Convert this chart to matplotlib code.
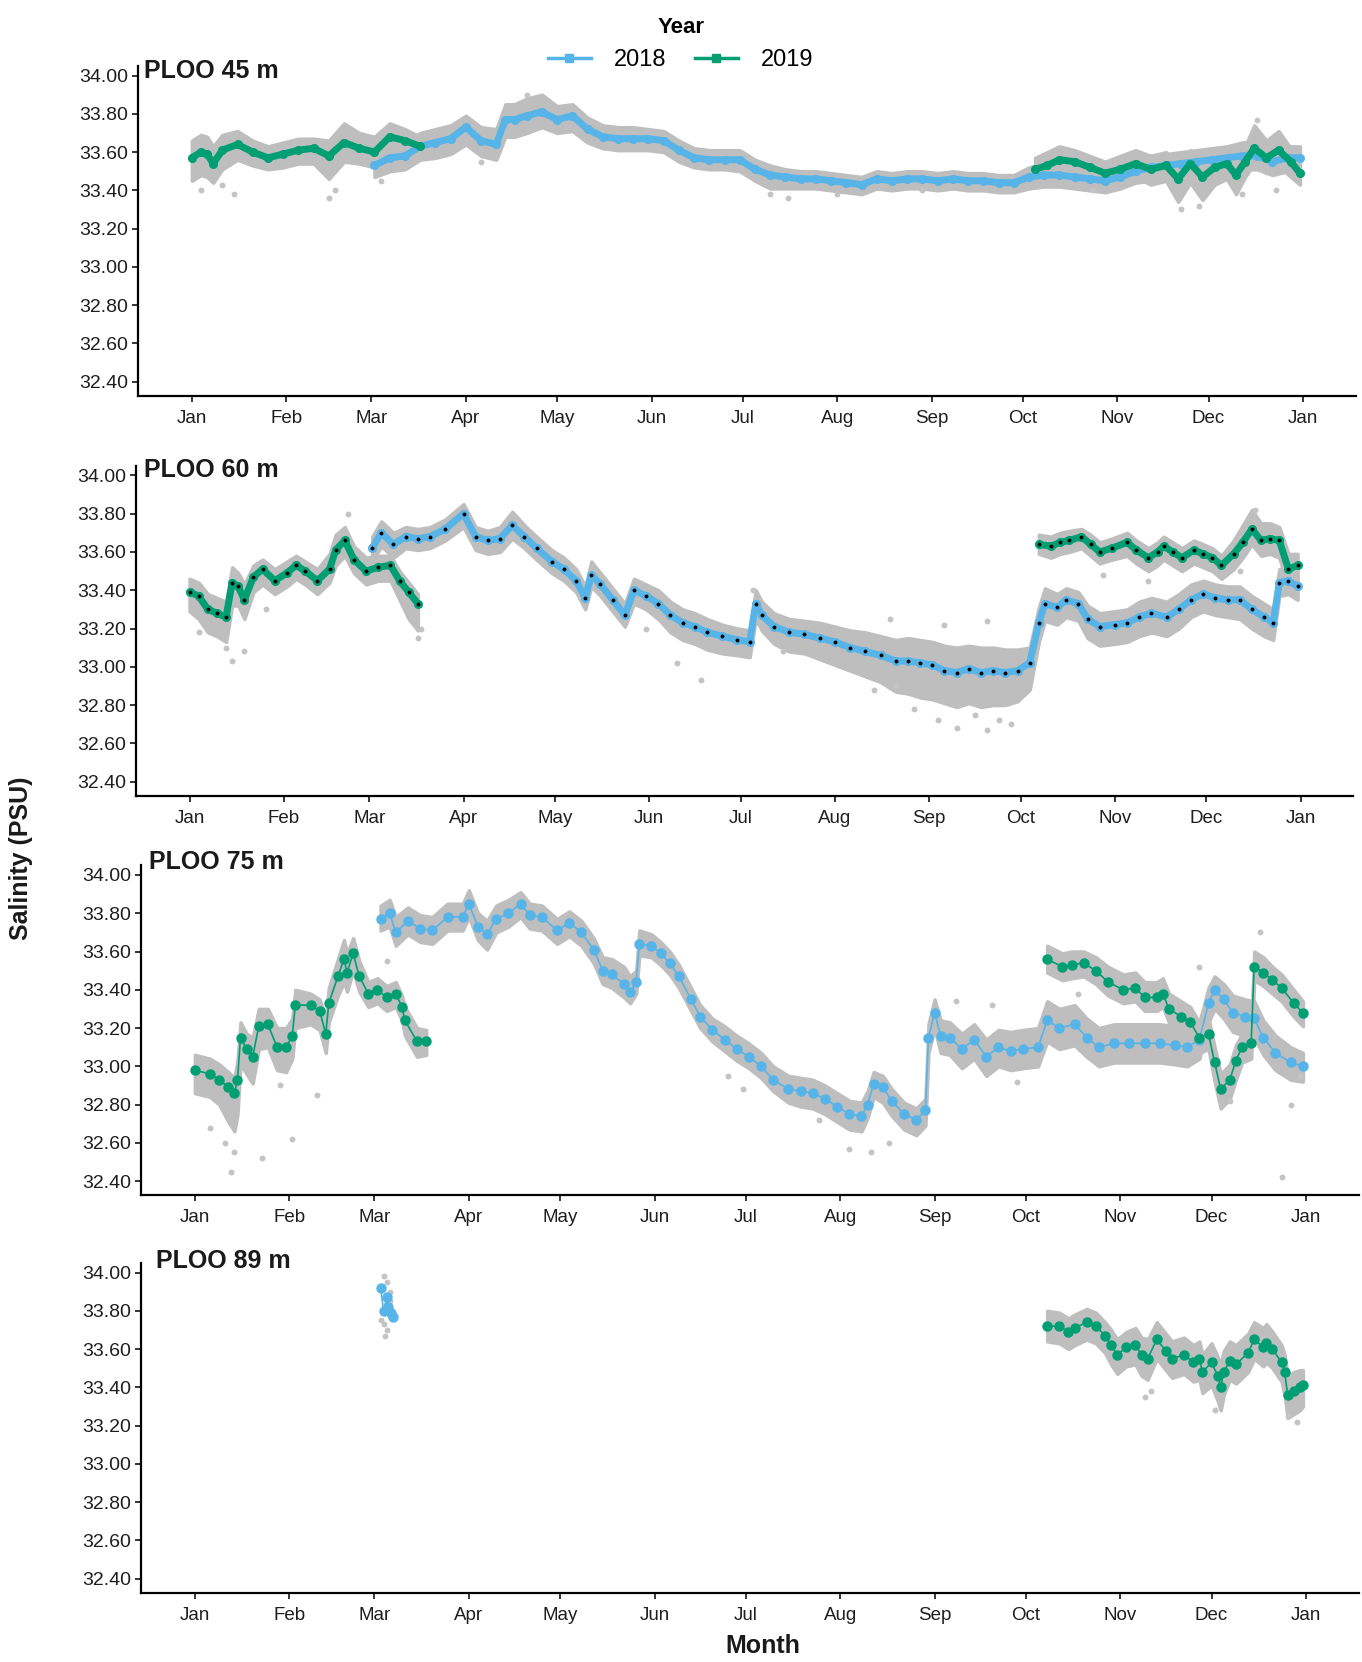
import numpy as np
import matplotlib.pyplot as plt
from matplotlib.lines import Line2D

plt.rcParams['font.family'] = ['Liberation Sans', 'DejaVu Sans']

BLUE = '#56B4E9'   # 2018
GREEN = '#009E73'  # 2019
GREY = '#bebebe'

MONTHS = ['Jan', 'Feb', 'Mar', 'Apr', 'May', 'Jun', 'Jul', 'Aug', 'Sep', 'Oct', 'Nov', 'Dec', 'Jan']
MONTH_START = [0, 31, 59, 90, 120, 151, 181, 212, 243, 273, 304, 334, 365]
Y_TICKS = [32.4, 32.6, 32.8, 33.0, 33.2, 33.4, 33.6, 33.8, 34.0]

# rows: (day of year, daily mean salinity, spread of raw points below, spread above)
P45_2018 = [
    (60, 33.53, .06, .06), (65, 33.57, .07, .07), (70, 33.58, .07, .07), (75, 33.63, .07, .07),
    (80, 33.65, .08, .07), (85, 33.67, .08, .07), (90, 33.73, .09, .06), (95, 33.66, .08, .07),
    (100, 33.64, .08, .08), (103, 33.77, .09, .08), (106, 33.77, .09, .08), (110, 33.79, .09, .09),
    (115, 33.81, .08, .09), (120, 33.77, .07, .07), (125, 33.79, .08, .06), (130, 33.72, .07, .06),
    (135, 33.68, .06, .06), (140, 33.67, .06, .06), (145, 33.67, .06, .06), (150, 33.67, .06, .05),
    (155, 33.66, .06, .05), (160, 33.61, .06, .05), (165, 33.57, .05, .05), (170, 33.56, .05, .05),
    (175, 33.56, .05, .05), (180, 33.56, .06, .05), (185, 33.51, .06, .05), (190, 33.48, .07, .05),
    (195, 33.47, .06, .04), (200, 33.46, .05, .04), (205, 33.46, .05, .04), (210, 33.45, .05, .04),
    (215, 33.44, .05, .04), (220, 33.43, .05, .04), (225, 33.46, .05, .04), (230, 33.45, .05, .04),
    (235, 33.46, .05, .04), (240, 33.46, .05, .04), (245, 33.45, .05, .04), (250, 33.46, .05, .04),
    (255, 33.45, .05, .04), (260, 33.45, .05, .04), (265, 33.44, .05, .04), (270, 33.44, .05, .04),
    (275, 33.47, .06, .05), (280, 33.48, .06, .06), (285, 33.48, .06, .06), (290, 33.47, .06, .06),
    (295, 33.46, .06, .06), (300, 33.45, .06, .06), (305, 33.47, .06, .06), (310, 33.50, .06, .06),
    (315, 33.52, .07, .06), (320, 33.53, .07, .06), (325, 33.54, .08, .06), (330, 33.55, .08, .06),
    (335, 33.56, .07, .06), (340, 33.57, .07, .06), (345, 33.58, .07, .07), (350, 33.58, .07, .08),
    (355, 33.55, .07, .08), (360, 33.57, .07, .06), (364, 33.57, .07, .06),
]
P45_2019_WINTER = [
    (0, 33.57, .12, .09), (3, 33.60, .12, .09), (5, 33.59, .12, .09), (7, 33.54, .10, .09),
    (10, 33.61, .10, .08), (15, 33.64, .08, .07), (20, 33.60, .07, .06), (25, 33.57, .06, .06),
    (30, 33.59, .07, .06), (35, 33.61, .07, .06), (40, 33.62, .08, .05), (45, 33.58, .12, .08),
    (50, 33.65, .10, .10), (55, 33.62, .08, .08), (60, 33.60, .08, .08), (65, 33.68, .07, .07),
    (70, 33.66, .07, .06), (75, 33.63, .06, .05),
]
P45_2019_FALL = [
    (277, 33.51, .07, .06), (281, 33.53, .07, .07), (285, 33.56, .07, .07), (290, 33.55, .07, .06),
    (295, 33.52, .07, .06), (300, 33.49, .07, .06), (305, 33.51, .07, .07), (310, 33.54, .07, .07),
    (315, 33.51, .08, .07), (320, 33.53, .08, .07), (324, 33.46, .12, .08), (328, 33.54, .10, .07),
    (332, 33.47, .12, .07), (336, 33.52, .09, .07), (340, 33.54, .08, .07), (343, 33.48, .10, .07),
    (346, 33.55, .08, .08), (349, 33.62, .08, .12), (353, 33.57, .08, .09), (357, 33.61, .08, .10),
    (361, 33.55, .08, .07), (364, 33.49, .06, .06),
]
P45_OUTLIERS = [
    (3, 33.40), (10, 33.43), (14, 33.38), (45, 33.36), (47, 33.40), (62, 33.45), (95, 33.55),
    (110, 33.90), (190, 33.38), (196, 33.36), (212, 33.38), (240, 33.40), (296, 33.40),
    (325, 33.30), (331, 33.32), (345, 33.38), (350, 33.77), (356, 33.40),
]

P60_2019_WINTER = [
    (0, 33.39, .10, .07), (3, 33.37, .12, .07), (6, 33.30, .12, .08), (9, 33.28, .12, .08),
    (12, 33.26, .13, .08), (14, 33.44, .12, .08), (16, 33.42, .10, .07), (18, 33.35, .10, .08),
    (21, 33.47, .08, .06), (24, 33.51, .08, .05), (28, 33.45, .07, .06), (32, 33.49, .07, .06),
    (35, 33.53, .07, .05), (38, 33.50, .07, .05), (42, 33.45, .07, .06), (46, 33.51, .07, .08),
    (48, 33.61, .08, .08), (51, 33.66, .08, .07), (54, 33.56, .07, .07), (58, 33.50, .07, .07),
    (62, 33.52, .07, .06), (66, 33.53, .08, .05), (69, 33.45, .10, .05), (72, 33.39, .14, .05),
    (75, 33.33, .14, .05),
]
P60_2018 = [
    (60, 33.62, .07, .06), (63, 33.70, .07, .06), (67, 33.64, .07, .06), (71, 33.68, .06, .05),
    (75, 33.67, .06, .05), (79, 33.68, .06, .05), (84, 33.72, .06, .05), (90, 33.80, .07, .05),
    (94, 33.68, .07, .05), (98, 33.66, .07, .05), (102, 33.67, .07, .06), (106, 33.74, .07, .07),
    (110, 33.68, .06, .06), (114, 33.62, .06, .06), (119, 33.55, .06, .06), (123, 33.51, .06, .06),
    (127, 33.45, .06, .06), (130, 33.36, .06, .06), (132, 33.48, .06, .07), (135, 33.43, .06, .06),
    (139, 33.35, .06, .06), (143, 33.27, .06, .06), (146, 33.40, .07, .06), (150, 33.37, .07, .06),
    (154, 33.33, .08, .07), (158, 33.27, .09, .07), (162, 33.23, .09, .07), (166, 33.21, .09, .07),
    (170, 33.18, .09, .07), (175, 33.16, .09, .06), (180, 33.14, .08, .06), (184, 33.13, .08, .06),
    (186, 33.33, .08, .07), (188, 33.27, .08, .07), (192, 33.21, .09, .07), (197, 33.18, .10, .07),
    (202, 33.17, .10, .07), (207, 33.15, .11, .08), (212, 33.13, .12, .08), (217, 33.10, .12, .09),
    (222, 33.08, .13, .10), (227, 33.06, .14, .10), (232, 33.03, .16, .11), (236, 33.03, .17, .12),
    (240, 33.02, .18, .12), (244, 33.01, .18, .12), (248, 32.98, .17, .13), (252, 32.97, .18, .13),
    (256, 32.99, .18, .12), (260, 32.97, .18, .13), (264, 32.98, .18, .12), (268, 32.97, .17, .12),
    (272, 32.98, .16, .11), (276, 33.02, .14, .08), (279, 33.23, .10, .08), (281, 33.33, .09, .08),
    (285, 33.31, .09, .07), (288, 33.35, .09, .06), (292, 33.33, .09, .06), (295, 33.25, .10, .07),
    (299, 33.21, .10, .07), (304, 33.22, .10, .07), (308, 33.23, .10, .07), (312, 33.26, .10, .08),
    (316, 33.28, .10, .08), (321, 33.26, .10, .08), (325, 33.30, .10, .08), (329, 33.35, .09, .08),
    (333, 33.38, .09, .07), (337, 33.36, .09, .07), (341, 33.35, .09, .07), (345, 33.35, .10, .07),
    (349, 33.30, .10, .07), (353, 33.26, .10, .07), (356, 33.23, .09, .07), (358, 33.44, .07, .07),
    (361, 33.45, .07, .07), (364, 33.42, .07, .06),
]
P60_2019_FALL = [
    (279, 33.64, .05, .05), (283, 33.63, .06, .05), (286, 33.65, .06, .05), (289, 33.66, .06, .05),
    (293, 33.68, .06, .04), (296, 33.64, .06, .05), (299, 33.60, .06, .05), (303, 33.62, .06, .05),
    (308, 33.65, .07, .05), (311, 33.61, .07, .05), (315, 33.57, .07, .05), (318, 33.60, .07, .05),
    (320, 33.63, .07, .05), (323, 33.60, .07, .05), (326, 33.57, .07, .05), (330, 33.61, .07, .05),
    (333, 33.59, .07, .05), (336, 33.57, .07, .05), (339, 33.53, .07, .05), (343, 33.59, .08, .07),
    (346, 33.65, .08, .09), (349, 33.72, .08, .10), (352, 33.66, .08, .09), (355, 33.67, .08, .08),
    (358, 33.66, .09, .07), (361, 33.51, .10, .08), (364, 33.53, .08, .06),
]
P60_OUTLIERS = [
    (3, 33.18), (12, 33.10), (14, 33.03), (18, 33.08), (25, 33.30), (52, 33.80), (75, 33.15),
    (76, 33.20), (150, 33.20), (160, 33.02), (168, 32.93), (185, 33.40), (195, 33.08),
    (225, 32.88), (230, 33.25), (232, 32.90), (238, 32.78), (246, 32.72), (248, 33.22),
    (252, 32.68), (258, 32.75), (262, 32.67), (262, 33.24), (266, 32.72), (270, 32.70),
    (300, 33.48), (315, 33.45), (345, 33.50), (350, 33.82),
]

P75_2019_WINTER = [
    (0, 32.98, .12, .08), (5, 32.96, .12, .08), (8, 32.93, .13, .08), (11, 32.89, .18, .08),
    (13, 32.86, .20, .08), (14, 32.93, .18, .10), (15, 33.15, .14, .08), (17, 33.09, .13, .08),
    (19, 33.05, .14, .10), (21, 33.21, .12, .09), (24, 33.22, .12, .08), (27, 33.10, .12, .10),
    (30, 33.10, .13, .10), (32, 33.16, .12, .09), (33, 33.32, .12, .08), (38, 33.32, .10, .06),
    (41, 33.29, .10, .06), (43, 33.17, .10, .08), (44, 33.33, .10, .08), (47, 33.47, .10, .09),
    (49, 33.56, .12, .10), (50, 33.49, .10, .10), (52, 33.59, .09, .08), (54, 33.47, .08, .08),
    (57, 33.38, .07, .06), (60, 33.40, .07, .06), (63, 33.36, .07, .06), (66, 33.38, .07, .06),
    (68, 33.31, .07, .06), (69, 33.24, .08, .07), (73, 33.13, .08, .07), (76, 33.13, .07, .06),
]
P75_2018 = [
    (61, 33.77, .06, .07), (64, 33.80, .07, .07), (66, 33.70, .07, .08), (70, 33.76, .07, .07),
    (74, 33.72, .07, .07), (78, 33.71, .07, .07), (83, 33.78, .07, .07), (88, 33.78, .07, .07),
    (90, 33.85, .07, .07), (93, 33.73, .07, .07), (96, 33.69, .08, .07), (99, 33.77, .07, .07),
    (103, 33.80, .07, .07), (107, 33.85, .07, .06), (110, 33.79, .07, .06), (114, 33.78, .07, .06),
    (119, 33.71, .07, .06), (123, 33.75, .07, .06), (127, 33.70, .07, .06), (131, 33.61, .07, .06),
    (134, 33.50, .07, .07), (137, 33.48, .07, .08), (141, 33.43, .07, .09), (143, 33.39, .06, .08),
    (145, 33.44, .06, .06), (146, 33.64, .06, .07), (150, 33.63, .06, .06), (153, 33.59, .06, .06),
    (156, 33.54, .06, .06), (159, 33.47, .06, .06), (163, 33.35, .06, .06), (166, 33.26, .06, .06),
    (170, 33.19, .06, .06), (174, 33.14, .06, .07), (178, 33.09, .06, .07), (182, 33.05, .06, .07),
    (186, 33.00, .06, .07), (190, 32.93, .06, .07), (195, 32.88, .07, .07), (199, 32.87, .08, .07),
    (203, 32.86, .08, .07), (207, 32.83, .08, .07), (211, 32.79, .08, .07), (215, 32.75, .08, .07),
    (219, 32.74, .08, .07), (221, 32.80, .07, .07), (223, 32.91, .07, .06), (226, 32.89, .08, .06),
    (229, 32.82, .08, .06), (233, 32.75, .08, .06), (237, 32.72, .08, .06), (240, 32.77, .08, .06),
    (241, 33.15, .08, .07), (243, 33.28, .08, .07), (245, 33.16, .09, .08), (248, 33.15, .09, .08),
    (252, 33.09, .10, .08), (256, 33.14, .10, .08), (260, 33.05, .10, .09), (264, 33.10, .10, .09),
    (268, 33.08, .10, .10), (272, 33.09, .10, .10), (277, 33.10, .10, .10), (280, 33.24, .11, .10),
    (284, 33.20, .11, .10), (289, 33.22, .11, .10), (293, 33.15, .10, .10), (297, 33.10, .10, .10),
    (302, 33.12, .10, .10), (307, 33.12, .10, .10), (312, 33.12, .10, .10), (317, 33.12, .10, .10),
    (322, 33.11, .10, .10), (326, 33.10, .10, .10), (330, 33.14, .10, .09), (333, 33.33, .10, .08),
    (335, 33.40, .10, .07), (338, 33.35, .10, .08), (341, 33.28, .10, .09), (345, 33.26, .10, .09),
    (348, 33.25, .10, .09), (351, 33.15, .09, .09), (355, 33.07, .09, .09), (360, 33.02, .09, .08),
    (364, 33.00, .08, .07),
]
P75_2019_FALL = [
    (280, 33.56, .07, .07), (285, 33.52, .07, .07), (288, 33.53, .07, .07), (292, 33.54, .07, .06),
    (296, 33.50, .07, .07), (300, 33.44, .07, .08), (305, 33.40, .07, .08), (309, 33.41, .07, .08),
    (312, 33.36, .07, .08), (316, 33.36, .07, .08), (318, 33.38, .07, .08), (320, 33.30, .07, .08),
    (324, 33.26, .07, .08), (327, 33.23, .07, .08), (330, 33.15, .08, .08), (333, 33.17, .08, .08),
    (335, 33.02, .10, .08), (337, 32.88, .10, .08), (340, 32.93, .10, .08), (342, 33.03, .10, .08),
    (344, 33.10, .08, .07), (347, 33.12, .08, .07), (348, 33.52, .07, .08), (351, 33.49, .07, .08),
    (354, 33.45, .07, .07), (357, 33.41, .07, .07), (361, 33.33, .07, .07), (364, 33.28, .07, .06),
]
P75_OUTLIERS = [
    (5, 32.68), (10, 32.60), (12, 32.45), (13, 32.55), (22, 32.52), (28, 32.90), (32, 32.62),
    (40, 32.85), (63, 33.55), (175, 32.95), (180, 32.88), (205, 32.72), (215, 32.57),
    (222, 32.55), (228, 32.60), (250, 33.34), (262, 33.32), (270, 32.92), (290, 33.38),
    (330, 33.52), (340, 32.82), (350, 33.70), (357, 32.42), (360, 32.80), (363, 32.95),
]

P89_2018 = [
    (61, 33.92, .00, .00), (62, 33.80, .00, .00), (63, 33.87, .00, .00), (63.5, 33.82, .00, .00),
    (64.5, 33.79, .00, .00), (65, 33.77, .00, .00),
]
P89_2019_FALL = [
    (280, 33.72, .08, .08), (284, 33.72, .09, .07), (287, 33.69, .09, .07), (289, 33.71, .09, .07),
    (293, 33.74, .09, .07), (296, 33.72, .09, .07), (299, 33.67, .09, .07), (301, 33.62, .10, .08),
    (303, 33.57, .10, .08), (306, 33.61, .10, .08), (309, 33.62, .10, .09), (311, 33.57, .11, .09),
    (313, 33.55, .11, .10), (316, 33.65, .10, .09), (319, 33.59, .10, .09), (321, 33.55, .10, .09),
    (325, 33.57, .10, .09), (328, 33.53, .10, .09), (330, 33.55, .11, .09), (331, 33.48, .11, .09),
    (334, 33.53, .12, .10), (336, 33.46, .13, .10), (337, 33.40, .12, .12), (338, 33.48, .12, .11),
    (340, 33.54, .10, .10), (342, 33.52, .10, .10), (346, 33.58, .10, .10), (348, 33.65, .10, .09),
    (351, 33.61, .10, .10), (352, 33.63, .10, .10), (354, 33.60, .10, .09), (357, 33.53, .10, .09),
    (358, 33.48, .12, .09), (359, 33.36, .12, .10), (361, 33.38, .12, .10), (363, 33.40, .12, .09),
    (364, 33.41, .11, .08),
]
P89_OUTLIERS = [
    (61, 33.75), (62, 33.98), (62, 33.73), (62.5, 33.67), (63, 33.95), (63, 33.70), (64, 33.90),
    (64, 33.85), (312, 33.35), (314, 33.38), (335, 33.28), (359, 33.25), (362, 33.22),
]

# panel name, series list, outliers, axes rect (figure fraction), line style, title position
PANELS = [
    ('PLOO 45 m', [(P45_2018, BLUE), (P45_2019_WINTER, GREEN), (P45_2019_FALL, GREEN)],
     P45_OUTLIERS, [0.1013, 0.7617, 0.8940, 0.1986], 'thick', (0.005, 0.985)),
    ('PLOO 60 m', [(P60_2018, BLUE), (P60_2019_WINTER, GREEN), (P60_2019_FALL, GREEN)],
     P60_OUTLIERS, [0.0996, 0.5211, 0.8940, 0.1986], 'dotted', (0.007, 0.988)),
    ('PLOO 75 m', [(P75_2018, BLUE), (P75_2019_WINTER, GREEN), (P75_2019_FALL, GREEN)],
     P75_OUTLIERS, [0.1035, 0.2807, 0.8940, 0.1986], 'thin', (0.007, 1.01)),
    ('PLOO 89 m', [(P89_2018, BLUE), (P89_2019_FALL, GREEN)],
     P89_OUTLIERS, [0.1035, 0.0415, 0.8940, 0.1986], 'thin', (0.012, 1.006)),
]


def draw_band(ax, rows):
    day, mean, dn, up = (np.array(c, dtype=float) for c in zip(*rows))
    if np.any(dn > 0):
        # edge line stands in for the radius of the raw-point markers
        ax.fill_between(day, mean - dn, mean + up, facecolor=GREY, edgecolor=GREY,
                        lw=2.5, zorder=1)


def draw_mean(ax, rows, color, style):
    day, mean = [r[0] for r in rows], [r[1] for r in rows]
    if style == 'thin':
        ax.plot(day, mean, color=color, lw=1.2, marker='o', ms=6.5, mec=color, zorder=3)
    else:
        ax.plot(day, mean, color=color, lw=5, marker='o', ms=5.5, mec=color,
                solid_capstyle='round', zorder=3)
        if style == 'dotted':
            ax.plot(day, mean, ls='none', marker='o', ms=1.8, color='black', zorder=4)


fig = plt.figure(figsize=(13.62, 16.62), dpi=100)

for name, series, outliers, rect, style, title_pos in PANELS:
    ax = fig.add_axes(rect)
    for rows, color in series:
        draw_band(ax, rows)
    ox, oy = zip(*outliers)
    ax.scatter(ox, oy, s=18, color='#c4c4c4', lw=0, zorder=1)
    for rows, color in series:
        draw_mean(ax, rows, color, style)

    ax.set_xlim(-17.7, 382.3)
    ax.set_ylim(32.325, 34.05)
    ax.set_xticks(MONTH_START)
    ax.set_xticklabels(MONTHS)
    ax.set_yticks(Y_TICKS)
    ax.set_yticklabels(['%.2f' % t for t in Y_TICKS])
    for side in ['top', 'right']:
        ax.spines[side].set_visible(False)
    for side in ['left', 'bottom']:
        ax.spines[side].set_linewidth(1.6)
    ax.tick_params(axis='both', direction='out', length=4, width=1.1, color='black',
                   labelcolor='#1e1e1e')
    ax.tick_params(axis='y', labelsize=14, pad=3)
    ax.tick_params(axis='x', labelsize=13.5, pad=6)
    ax.text(title_pos[0], title_pos[1], name, transform=ax.transAxes, ha='left', va='center',
            fontsize=18, fontweight='bold', color='#1a1a1a')

handles = [
    Line2D([], [], color=BLUE, lw=2.5, marker='s', ms=6),
    Line2D([], [], color=GREEN, lw=2.5, marker='s', ms=6),
]
leg = fig.legend(handles, ['2018', '2019'], title='Year', loc='upper center',
                 bbox_to_anchor=(0.5, 1.0), ncol=2, frameon=False, fontsize=17,
                 handlelength=1.8, columnspacing=1.2, handletextpad=1.0, borderaxespad=0.3)
leg.get_title().set_fontweight('bold')
leg.get_title().set_fontsize(16)

fig.text(0.560, 0.0096, 'Month', ha='center', va='center', fontsize=18, fontweight='bold',
         color='#1a1a1a')
fig.text(0.0155, 0.4838, 'Salinity (PSU)', ha='center', va='center', rotation=90,
         fontsize=18, fontweight='bold', color='#1a1a1a')

plt.savefig('out.png', dpi=100)
